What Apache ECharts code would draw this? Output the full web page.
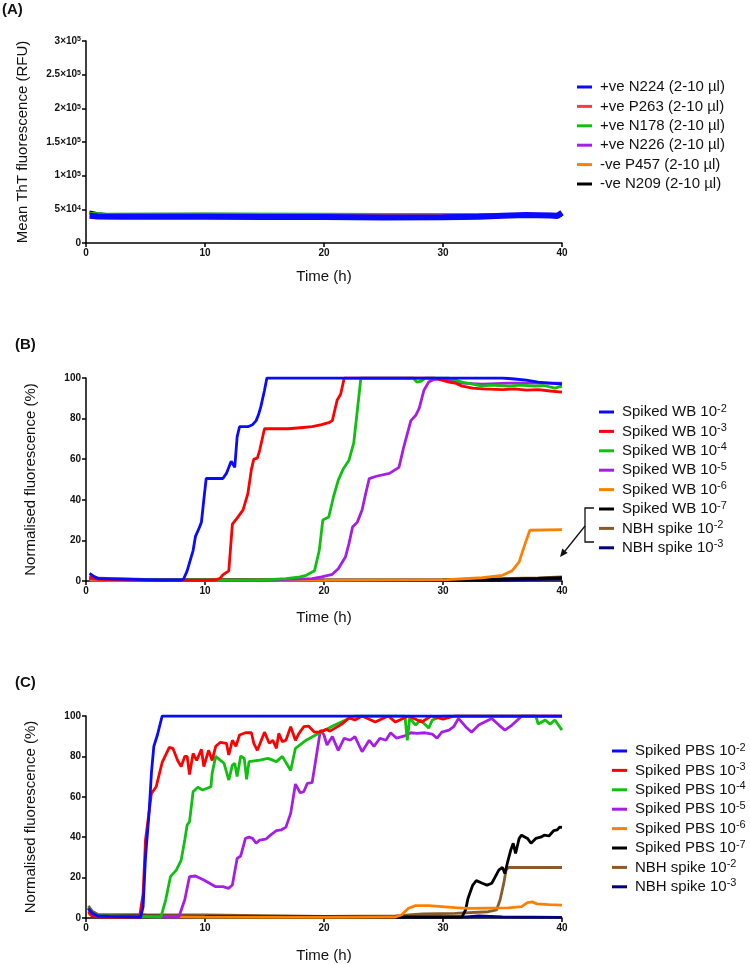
<!DOCTYPE html>
<html>
<head>
<meta charset="utf-8">
<script src="https://cdn.jsdelivr.net/npm/echarts@6/dist/echarts.min.js"></script>
<style>
html,body{margin:0;padding:0;background:#fff;}
#chart{width:750px;height:964px;}
</style>
</head>
<body>
<div id="chart"></div>
<script>
// ---------- Panel A data (time h, RFU) ----------
const aNames = ['+ve N224 (2-10 µl)','+ve P263 (2-10 µl)','+ve N178 (2-10 µl)','+ve N226 (2-10 µl)','-ve P457 (2-10 µl)','-ve N209 (2-10 µl)'];
const aN224 = [[0.3,40500],[1,39500],[3,39000],[10,38800],[15,38600],[20,38500],[25,38000],[30,38300],[33,39000],[35,40500],[37,41500],[39,41000],[39.6,40000],[40,45000]];
const aP263 = [[0.3,43500],[1,41500],[10,41200],[20,41000],[30,40800],[40,40500]];
const aN178 = [[0.3,44500],[1.5,43200],[10,43300],[20,43000],[30,42500],[40,42000]];
const aN226 = [[0.3,44000],[1.5,42800],[10,43000],[20,42500],[30,42000],[40,42300]];
const aP457 = [[0.3,44000],[1.5,42500],[10,42400],[20,42200],[30,41800],[40,41500]];
const aN209 = [[0.3,46500],[1,44000],[2,42300],[10,42000],[20,41800],[30,41500],[36,42500],[40,43000]];
const aYTicks = ['0','5×10{s|4}','1×10{s|5}','1.5×10{s|5}','2×10{s|5}','2.5×10{s|5}','3×10{s|5}'];

// ---------- Panel B data (time h, %) ----------
const bNames = ['Spiked WB 10{s|-2}','Spiked WB 10{s|-3}','Spiked WB 10{s|-4}','Spiked WB 10{s|-5}','Spiked WB 10{s|-6}','Spiked WB 10{s|-7}','NBH spike 10{s|-2}','NBH spike 10{s|-3}'];
const wb2 = [[0.3,3.8],[0.6,2.5],[1,1.3],[2,1],[4,0.8],[6,0.5],[8,0.5],[8.2,1],[8.5,5],[8.8,11],[9.0,15],[9.2,22],[9.5,26],[9.7,29],[9.9,40],[10.1,50.5],[11.5,50.5],[11.8,53],[12.2,59],[12.4,57],[12.5,56],[12.7,71],[12.9,76],[13.6,76],[14.0,77],[14.3,79],[14.5,82],[14.7,86],[15.0,94],[15.2,100],[33,100],[35,100],[36,99.5],[37,99],[38,98],[39,97.5],[40,97]];
const wb3 = [[0.3,2],[1,0.8],[5,0.3],[10,0.3],[10.9,0.5],[11.3,1.5],[11.5,3],[12.0,5],[12.3,28],[12.7,31],[13.2,35],[13.6,43],[13.9,55],[14.1,60],[14.4,60.5],[14.6,64.5],[15.0,75],[17,75],[18,75.5],[19,76],[19.8,77],[20.4,78],[20.7,79],[21.1,89],[21.4,92],[21.7,100],[29.3,100],[29.9,99],[30.5,98],[31,97.5],[31.6,96],[32.5,95],[33.3,94.6],[35,94.3],[36,94.6],[37,94],[38,94.3],[39,93.6],[40,93]];
const wb4 = [[0.3,2.5],[1,1.2],[5,0.6],[10,0.4],[15,0.6],[16.8,1.2],[18,2],[18.5,2.8],[19.2,5],[19.6,15],[19.9,30],[20.4,31.5],[20.8,41.5],[21.2,49.7],[21.6,55],[22.1,59.5],[22.5,68],[22.8,84],[23.1,100],[27.5,100],[27.8,98],[28.2,98.5],[28.5,100],[30.5,100],[31.6,98],[32.5,97],[33.3,96],[34,96.5],[35.5,96],[36.5,96.5],[37.7,96],[38.5,96.3],[39.4,95],[40,96]];
const wb5 = [[0.3,1],[5,0.3],[15,0.3],[17,0.8],[19,1.2],[19.8,2],[20.7,3.3],[21.2,6],[21.8,11.8],[22.1,18.4],[22.4,26.6],[22.8,29],[23.2,35],[23.5,43],[23.8,50.4],[24.4,51.6],[25.5,53],[26.3,56],[26.7,66],[27.3,79],[27.7,81.5],[28.0,85],[28.4,94],[28.8,98],[29.3,99.5],[30.5,99],[31.6,97.5],[33.3,97],[35.5,97.5],[37.7,97.5],[40,97.5]];
const wb6 = [[0.3,0.5],[5,0.2],[20,0.3],[30,0.6],[33.3,1.6],[35,2.8],[35.8,5],[36.4,9.4],[36.9,18.4],[37.3,25],[40,25.3]];
const wb7 = [[0.3,1],[5,0.5],[20,0.4],[30,0.5],[35,0.9],[38,1.3],[40,1.6]];
const wbNbh2 = [[0.3,1.5],[5,0.8],[20,0.6],[30,0.7],[38,1.5],[40,2]];
const wbNbh3 = [[0.3,1],[5,0.5],[20,0.3],[34,0.2],[38,0.8],[40,1]];

// ---------- Panel C data (time h, %) ----------
const cNames = ['Spiked PBS 10{s|-2}','Spiked PBS 10{s|-3}','Spiked PBS 10{s|-4}','Spiked PBS 10{s|-5}','Spiked PBS 10{s|-6}','Spiked PBS 10{s|-7}','NBH spike 10{s|-2}','NBH spike 10{s|-3}'];
const pbs2 = [[0.2,4.8],[0.5,2.5],[1,1],[2,0.8],[4.6,0.5],[4.8,5.6],[5.0,30],[5.3,52],[5.5,72],[5.7,85],[6.0,90.6],[6.4,100],[40,100]];
const pbs3 = [[0.2,3],[0.5,1],[1,0.5],[4.5,0.5],[4.8,12],[5.0,38.6],[5.5,61.7],[5.9,65],[6.4,77],[7.0,84.5],[7.3,84],[7.7,78],[8.0,75],[8.3,80],[8.5,80],[8.7,71],[9.0,81.5],[9.3,78],[9.7,83.5],[9.9,75],[10.3,83],[10.6,78],[10.9,85],[11.3,87],[11.8,86.5],[12.0,80.7],[12.3,88],[12.6,85],[12.9,90.6],[13.4,91.7],[13.9,91.7],[14.1,86.5],[14.4,83],[15.0,92],[15.4,86.5],[15.7,88],[16.0,84],[16.2,91.4],[16.5,87.3],[16.8,88],[17.2,94.7],[17.6,88],[17.9,91.4],[18.3,94.7],[18.7,95],[19.2,92],[19.6,92],[20.2,93.4],[20.5,92.5],[21.5,96],[22.1,99],[22.6,98],[23.2,100],[24.3,97],[25.4,100],[26,97],[27.1,100],[28.2,97],[29,100],[30,98.5],[31,100],[40,100]];
const pbs4 = [[0.2,5],[0.5,2.5],[1,1.2],[6.3,0.5],[6.7,9],[7.1,20.5],[7.6,23.8],[8.0,28.7],[8.3,38.6],[8.5,46],[8.7,47.7],[9.0,62.5],[9.4,64.7],[9.8,63.4],[10.5,65],[10.6,71.6],[10.9,80],[11.3,78],[11.6,76.6],[12.0,68.3],[12.3,75.7],[12.5,76.6],[12.7,70],[13.0,80.2],[13.3,79],[13.5,68.6],[13.7,77.4],[14.6,78.2],[15.3,79],[16.0,77.4],[16.5,80],[17.2,73],[17.6,84],[18.5,88],[19.3,90.6],[19.9,92.4],[20.9,95.5],[22.1,98.8],[22.6,100],[26.8,100],[27.0,88],[27.2,99],[27.7,95.5],[28.1,98],[28.8,94],[29.1,98],[30,100],[37.8,100],[38.0,96],[38.6,98],[39.0,96],[39.4,98],[40,93]];
const pbs5 = [[0.2,4],[0.5,2],[1,1],[7.8,0.5],[8.3,9],[8.7,20.5],[9.2,20.8],[9.9,18.8],[10.9,15.5],[11.5,15.5],[12.0,14.7],[12.3,16.3],[12.7,29.5],[13.0,30.7],[13.4,39.4],[13.7,40],[14.0,39.4],[14.3,37],[14.6,38.6],[15.1,39],[15.5,41],[16.0,43.2],[16.4,43.6],[16.8,45],[17.2,51.8],[17.6,66.3],[18.0,62],[18.3,62.5],[18.6,66.7],[19.0,67],[19.3,78],[19.7,93],[20.0,90.6],[20.25,85.6],[20.7,89.8],[21.2,83],[21.7,89],[22.2,88],[22.6,89.8],[23.2,82.3],[23.8,88],[24.2,85],[24.7,89],[25.2,88],[25.6,91.7],[26.1,89],[26.7,90],[27.3,91.7],[27.8,91.4],[28.5,91.7],[29.1,91],[29.5,89],[29.9,92],[30.5,93],[30.9,94.7],[31.3,98.8],[31.9,94.7],[32.4,92],[33,95.5],[33.5,97],[34.1,98.8],[34.7,95.5],[35.2,93],[35.8,95.5],[36.4,98.8],[36.6,100],[40,100]];
const pbs6 = [[0.2,2],[1,0.8],[10,0.5],[20,0.3],[26,0.5],[26.5,1.5],[27.1,4.8],[27.7,6.1],[28.8,6.1],[29.9,5.6],[31,5.1],[32.1,4.8],[33.8,4.9],[35.5,5],[36.6,5.6],[37.1,7.6],[37.5,8],[37.9,7],[38.9,6.6],[40,6.4]];
const pbs7 = [[0.2,3],[1,1],[10,0.8],[20,0.5],[31.6,0.5],[31.9,4],[32.1,9.7],[32.5,16.3],[32.8,18.5],[33.3,17.2],[33.7,16.3],[34.1,17.2],[34.4,20.5],[34.7,23.8],[35.0,25],[35.2,22],[35.4,27],[35.7,33.7],[35.9,37],[36.1,32],[36.4,39.4],[36.6,41],[37.1,39.4],[37.4,37],[37.8,39.4],[38.2,40],[38.5,41],[38.9,40.6],[39.3,43.2],[39.6,43.6],[39.8,45],[40,44.9]];
const pbsNbh2 = [[0.2,6],[0.5,3.5],[1,1.8],[5,1.6],[10,1.5],[15,1.2],[20,0.8],[26,1],[28.3,2],[31,2.3],[33.8,3.1],[34.5,4],[34.8,9],[35.1,17],[35.3,23.8],[35.5,25],[40,25]];
const pbsNbh3 = [[0.2,5],[0.5,2.5],[1,1.2],[5,1],[15,0.8],[25,0.5],[32,0.6],[33,1],[35,0.6],[40,0.3]];

const xTicks = [0,10,20,30,40];
const pctTicks = [0,20,40,60,80,100];

// ---------- styling ----------
const FONT = "'Liberation Sans', Arial, sans-serif";
const colorsA = ['#0a0aff','#ff3b3b','#10c010','#a61ee6','#ff8000','#000000'];
const colorsBC = ['#0a0aff','#ff0000','#10c010','#a61ee6','#ff8000','#000000','#8b5a2b','#000080'];

const grids = [
  {left:86, top:41, width:476, height:202},
  {left:86, top:378, width:476, height:203},
  {left:86, top:716, width:476, height:202}
];

function xAxisFor(i, gap){
  return {
    type:'value', gridIndex:i, min:0, max:40, interval:10,
    name:'Time (h)', nameLocation:'middle', nameGap:gap,
    nameTextStyle:{fontFamily:FONT, fontSize:15, color:'#111'},
    axisLine:{lineStyle:{color:'#000', width:1.5}},
    axisTick:{length:4, lineStyle:{color:'#000', width:1.5}},
    axisLabel:{fontFamily:FONT, fontSize:10, fontWeight:'bold', color:'#111', margin:5},
    splitLine:{show:false}
  };
}
function yAxisPct(i){
  return {
    type:'value', gridIndex:i, min:0, max:100, interval:20,
    name:'Normalised fluorescence (%)', nameLocation:'middle', nameGap:48,
    nameTextStyle:{fontFamily:FONT, fontSize:15, color:'#111'},
    axisLine:{show:true, lineStyle:{color:'#000', width:1.5}},
    axisTick:{show:true, length:4, lineStyle:{color:'#000', width:1.5}},
    axisLabel:{fontFamily:FONT, fontSize:10, fontWeight:'bold', color:'#111', margin:5},
    splitLine:{show:false}
  };
}
const yAxisA = {
  type:'value', gridIndex:0, min:0, max:300000, interval:50000,
  name:'Mean ThT fluorescence (RFU)', nameLocation:'middle', nameGap:56,
  nameTextStyle:{fontFamily:FONT, fontSize:15, color:'#111'},
  axisLine:{show:true, lineStyle:{color:'#000', width:1.5}},
  axisTick:{show:true, length:4, lineStyle:{color:'#000', width:1.5}},
  axisLabel:{fontFamily:FONT, fontSize:10, fontWeight:'bold', color:'#111', margin:5,
    formatter:(v)=>aYTicks[Math.round(v/50000)],
    rich:{s:{fontFamily:FONT, fontSize:7, fontWeight:'bold', color:'#111', verticalAlign:'top', lineHeight:8, padding:[0,0,4,0]}}},
  splitLine:{show:false}
};

const series = [];
function addSeries(arr, names, colors, idx, width){
  arr.forEach((d,i)=>{
    series.push({
      type:'line', name:names[i], xAxisIndex:idx, yAxisIndex:idx, data:d,
      showSymbol:false, symbol:'none', smooth:false,
      lineStyle:{color:colors[i], width:(typeof width==='function')?width(i):width},
      itemStyle:{color:colors[i]},
      z: 2 + (arr.length - i), animation:false
    });
  });
}
addSeries([aN224,aP263,aN178,aN226,aP457,aN209], aNames, colorsA, 0, (i)=> i===0 ? 6 : 2.5);
addSeries([wb2,wb3,wb4,wb5,wb6,wb7,wbNbh2,wbNbh3], bNames, colorsBC, 1, 2.8);
addSeries([pbs2,pbs3,pbs4,pbs5,pbs6,pbs7,pbsNbh2,pbsNbh3], cNames, colorsBC, 2, 2.8);

function legendFor(names, left, top){
  return {
    orient:'vertical', left:left, top:top, data:names, padding:0,
    icon:'rect', itemWidth:15, itemHeight:3, itemGap:1.4,
    selectedMode:false,
    textStyle:{fontFamily:FONT, fontSize:15, color:'#111', lineHeight:18, padding:[0,0,0,3],
      rich:{s:{fontFamily:FONT, fontSize:11, color:'#111', verticalAlign:'top', lineHeight:10, padding:[0,0,6,0]}}}
  };
}

const panelLabel = (txt, x, y) => ({type:'text', left:x, top:y, style:{text:txt, font:'bold 15px '+FONT, fill:'#111'}});

const option = {
  animation:false,
  backgroundColor:'#fff',
  grid:grids,
  xAxis:[xAxisFor(0,26), xAxisFor(1,29), xAxisFor(2,30)],
  yAxis:[yAxisA, yAxisPct(1), yAxisPct(2)],
  legend:[legendFor(aNames, 577, 78), legendFor(bNames, 599, 403), legendFor(cNames, 612, 742)],
  series:series,
  graphic:[
    panelLabel('(A)', 2, 2),
    panelLabel('(B)', 15, 337),
    panelLabel('(C)', 15, 675),
    {type:'polyline', shape:{points:[[594,508],[585,508],[585,542],[594,542]]}, style:{stroke:'#111', lineWidth:1.3, fill:null}},
    {type:'line', shape:{x1:585, y1:526, x2:565, y2:551}, style:{stroke:'#111', lineWidth:1.3}},
    {type:'polygon', shape:{points:[[560,557],[567.7,553],[562.3,548.6]]}, style:{fill:'#111'}}
  ]
};

const chart = echarts.init(document.getElementById('chart'), null, {renderer:'canvas'});
chart.setOption(option);
</script>
</body>
</html>
